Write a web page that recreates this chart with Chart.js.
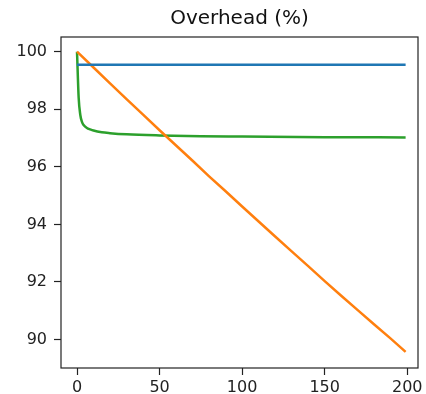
<!DOCTYPE html>
<html>
<head>
<meta charset="utf-8">
<script src="https://cdn.jsdelivr.net/npm/chart.js@4.4.0/dist/chart.umd.min.js"></script>
<style>
  html, body { margin: 0; padding: 0; background: #fff; }
  #wrap { width: 426px; height: 394px; }
</style>
</head>
<body>
<div id="wrap"><canvas id="c" width="426" height="394"></canvas></div>
<script>
const titleText = "Overhead (%)";

const blueX = [0, 199];
const blueY = [99.55, 99.55];

const orangeX = [0, 10, 20, 30, 40, 50, 60, 70, 80, 90, 100, 110, 120, 130, 140, 150, 160, 170, 180, 190, 199];
const orangeY = [100, 99.45, 98.90, 98.35, 97.81, 97.27, 96.74, 96.21, 95.67, 95.15, 94.62, 94.10, 93.58, 93.06, 92.55, 92.03, 91.52, 91.02, 90.52, 90.03, 89.57];

const greenX = [0, 1, 2, 3, 4, 6, 8, 10, 15, 20, 30, 50, 75, 100, 150, 199];
const greenY = [100, 98.4, 97.8, 97.56, 97.45, 97.35, 97.3, 97.26, 97.2, 97.17, 97.13, 97.09, 97.06, 97.05, 97.03, 97.02];

const xTicks = [0, 50, 100, 150, 200];
const yTicks = [90, 92, 94, 96, 98, 100];

function pts(xs, ys) { return xs.map((x, i) => ({ x: x, y: ys[i] })); }

const frame = {
  id: 'frame',
  afterDatasetsDraw(chart) {
    const a = chart.chartArea, ctx = chart.ctx;
    ctx.save();
    ctx.strokeStyle = '#222';
    ctx.lineWidth = 1.2;
    ctx.strokeRect(a.left, a.top, a.right - a.left, a.bottom - a.top);
    ctx.restore();
  }
};

const font = { family: 'DejaVu Sans', size: 16 };

new Chart(document.getElementById('c'), {
  type: 'line',
  data: {
    datasets: [
      { data: pts(blueX, blueY), borderColor: '#1f77b4', borderWidth: 2.5, pointRadius: 0, tension: 0 },
      { data: pts(orangeX, orangeY), borderColor: '#ff7f0e', borderWidth: 2.5, pointRadius: 0, tension: 0 },
      { data: pts(greenX, greenY), borderColor: '#2ca02c', borderWidth: 2.5, pointRadius: 0, cubicInterpolationMode: 'monotone' }
    ]
  },
  options: {
    responsive: false,
    animation: false,
    events: [],
    layout: { padding: { left: 0, right: 8, top: 0, bottom: 0 } },
    plugins: {
      legend: { display: false },
      tooltip: { enabled: false },
      title: {
        display: true,
        text: titleText,
        fullSize: false,
        color: '#111',
        font: { family: 'DejaVu Sans', size: 20, weight: 'normal' },
        padding: { top: 7, bottom: 6 }
      }
    },
    scales: {
      x: {
        type: 'linear',
        min: -9.7,
        max: 206.5,
        afterBuildTicks(s) { s.ticks = xTicks.map(v => ({ value: v })); },
        afterFit(s) { s.height = 26; },
        grid: { drawOnChartArea: false, drawTicks: true, tickLength: 7, tickColor: '#222', tickWidth: 1.2 },
        border: { display: false },
        ticks: { font: font, color: '#222', padding: 3, maxRotation: 0 }
      },
      y: {
        type: 'linear',
        min: 89.01,
        max: 100.51,
        afterBuildTicks(s) { s.ticks = yTicks.map(v => ({ value: v })); },
        afterFit(s) { s.width = 61; },
        grid: { drawOnChartArea: false, drawTicks: true, tickLength: 7, tickColor: '#222', tickWidth: 1.2 },
        border: { display: false },
        ticks: { font: font, color: '#222', padding: 7 }
      }
    }
  },
  plugins: [frame]
});
</script>
</body>
</html>
